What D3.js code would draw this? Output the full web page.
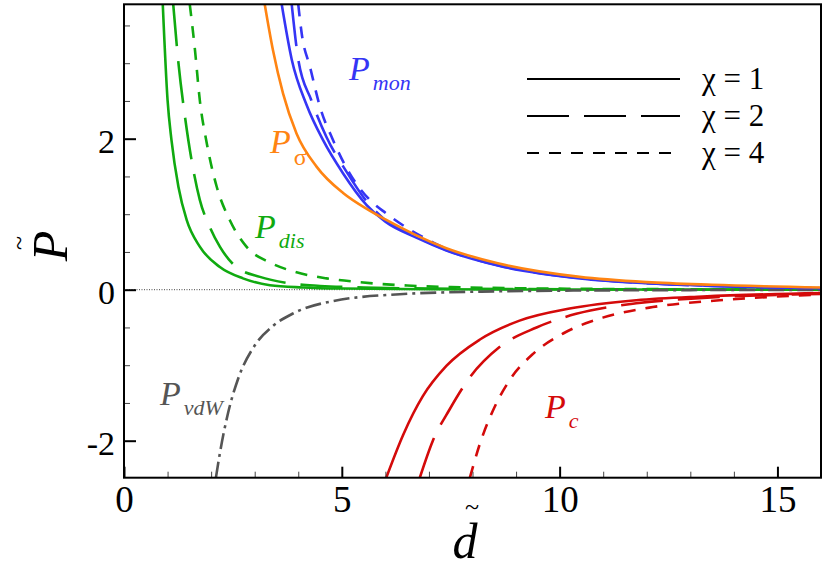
<!DOCTYPE html>
<html><head><meta charset="utf-8">
<script src="https://cdn.jsdelivr.net/npm/d3@7"></script>
</head><body style="margin:0">
<script>
// ticks
var xMajor = [0, 5, 10, 15];
var xMinor = [1, 2, 3, 4, 6, 7, 8, 9, 11, 12, 13, 14];
var yMajor = [-2, 0, 2];
var yMinor = [-1.5, -1, -0.5, 0.5, 1, 1.5, 2.5, 3, 3.5];

// curves, [d, P]
var disChi1 = [[0.89, 3.78], [1.0, 2.51], [1.09, 1.98], [1.25, 1.36], [1.44, 0.92], [1.74, 0.57], [2.2, 0.30], [2.73, 0.15], [3.35, 0.06], [4.1, 0.03], [5, 0.015], [7, 0.005], [16, 0]];
var disChi2 = [[1.13, 3.78], [1.25, 3.0], [1.40, 2.29], [1.55, 1.72], [1.74, 1.19], [1.97, 0.83], [2.2, 0.57], [2.58, 0.30], [3.12, 0.17], [3.73, 0.09], [4.5, 0.05], [5.5, 0.03], [7, 0.015], [9, 0.008], [16, 0.002]];
var disChi4 = [[1.51, 3.78], [1.63, 3.17], [1.74, 2.51], [1.90, 1.94], [2.13, 1.36], [2.43, 0.92], [2.81, 0.57], [3.35, 0.36], [3.9, 0.24], [4.65, 0.15], [5.4, 0.10], [6.5, 0.055], [7.5, 0.035], [9, 0.02], [11, 0.01], [16, 0.003]];

var monChi1 = [[3.62, 3.78], [3.85, 3.05], [4.19, 2.45], [4.57, 1.98], [5.03, 1.54], [5.57, 1.12], [6.0, 0.90], [6.71, 0.69], [7.40, 0.52], [8.58, 0.32], [10.46, 0.15], [12, 0.085], [13.5, 0.05], [16, 0.02]];
var monChi2 = [[3.85, 3.78], [4.0, 3.05], [4.30, 2.51], [4.65, 2.02], [5.11, 1.56], [5.57, 1.17], [6.0, 0.92], [6.71, 0.70], [7.40, 0.525], [8.58, 0.325], [10.46, 0.152], [12, 0.086], [13.5, 0.05], [16, 0.02]];
var monChi4 = [[4.0, 3.78], [4.08, 3.39], [4.27, 2.95], [4.50, 2.42], [4.80, 1.98], [5.18, 1.54], [5.64, 1.19], [6.02, 1.01], [6.52, 0.81], [6.98, 0.66], [7.40, 0.54], [8.58, 0.34], [10.46, 0.16], [12, 0.09], [13.5, 0.055], [16, 0.02]];

var sigma = [[3.23, 3.78], [3.42, 3.17], [3.65, 2.60], [3.96, 2.07], [4.42, 1.63], [5.03, 1.28], [5.6, 1.06], [6.0, 0.93], [6.71, 0.72], [7.40, 0.55], [8.58, 0.35], [10.46, 0.17], [12, 0.10], [13.5, 0.065], [16, 0.03]];

var vdw = [[2.11, -2.49], [2.20, -2.17], [2.39, -1.63], [2.62, -1.18], [3.0, -0.74], [3.42, -0.48], [3.88, -0.315], [4.8, -0.15], [6.33, -0.06], [8.2, -0.025], [10, -0.013], [13, -0.005], [16, -0.002]];

var cChi1 = [[6.02, -2.49], [6.41, -1.92], [6.86, -1.41], [7.40, -1.01], [8.17, -0.66], [9.08, -0.41], [10.23, -0.25], [11.76, -0.14], [13.29, -0.09], [16, -0.045]];
var cChi2 = [[6.79, -2.49], [7.09, -2.0], [7.48, -1.58], [7.94, -1.16], [8.62, -0.76], [9.47, -0.50], [10.38, -0.32], [11.76, -0.18], [13.29, -0.11], [16, -0.055]];
var cChi4 = [[7.94, -2.49], [8.17, -2.04], [8.47, -1.60], [8.85, -1.20], [9.39, -0.85], [10.08, -0.58], [10.99, -0.37], [12.14, -0.23], [13.67, -0.14], [16, -0.065]];

var legendLabels = ['\u03c7 = 1', '\u03c7 = 2', '\u03c7 = 4'];

var blue = '#3535f5', orange = '#ff8412', green = '#10aa10', red = '#d40a0a', grey = '#555555';
var solid = null, longDash = '42,15', shortDash = '12,10', dashDot = '16,5,3,5';
var serif = 'Liberation Serif';

var W = 830, H = 574;
var svg = d3.select('body').append('svg')
  .attr('width', W)
  .attr('height', H)
  .style('display', 'block');

var x = d3.scaleLinear().domain([0, 16]).range([124, 821]);
var y = d3.scaleLinear().domain([-2.49, 3.78]).range([477.7, 4.3]);

// text element with its face set before any content goes in
function addText(parent, size, italic) {
  return parent.append('text')
    .style('font-family', '"' + serif + '"')
    .attr('font-size', size)
    .attr('font-style', italic ? 'italic' : 'normal');
}

svg.append('clipPath').attr('id', 'plotclip')
  .append('rect')
  .attr('x', x(0)).attr('y', y(3.78))
  .attr('width', x(16) - x(0)).attr('height', y(-2.49) - y(3.78));

var line = d3.line().x(function (d) { return x(d[0]); }).y(function (d) { return y(d[1]); })
  .curve(d3.curveMonotoneX);

// zero line
svg.append('path')
  .attr('d', line([[0, 0], [16, 0]]))
  .attr('stroke', '#444').attr('stroke-width', 1)
  .attr('stroke-dasharray', '1,1.5').attr('fill', 'none');

var curves = svg.append('g').attr('clip-path', 'url(#plotclip)');
var series = [
  [disChi1, green, solid], [disChi2, green, longDash], [disChi4, green, shortDash],
  [vdw, grey, dashDot],
  [cChi1, red, solid], [cChi2, red, longDash], [cChi4, red, shortDash],
  [monChi1, blue, solid], [monChi2, blue, longDash], [monChi4, blue, shortDash],
  [sigma, orange, solid]
];
series.forEach(function (s) {
  curves.append('path')
    .attr('d', line(s[0]))
    .attr('fill', 'none')
    .attr('stroke', s[1])
    .attr('stroke-width', 2.6)
    .attr('stroke-dasharray', s[2]);
});

// axes, ticks inward
function fmt(d) { return String(d); }
var xAxis = svg.append('g').attr('transform', 'translate(0,' + y(-2.49) + ')')
  .call(d3.axisBottom(x).tickValues(xMajor).tickSize(-11).tickPadding(8).tickFormat(fmt));
var xAxisMinor = svg.append('g').attr('transform', 'translate(0,' + y(-2.49) + ')')
  .call(d3.axisBottom(x).tickValues(xMinor).tickSize(-6).tickFormat(''));
var yAxis = svg.append('g').attr('transform', 'translate(' + x(0) + ',0)')
  .call(d3.axisLeft(y).tickValues(yMajor).tickSize(-12).tickPadding(9).tickFormat(fmt));
var yAxisMinor = svg.append('g').attr('transform', 'translate(' + x(0) + ',0)')
  .call(d3.axisLeft(y).tickValues(yMinor).tickSize(-6).tickFormat(''));

[xAxis, xAxisMinor, yAxis, yAxisMinor].forEach(function (g) {
  g.attr('font-family', serif).attr('font-size', null);
  g.select('.domain').remove();
});
xAxis.selectAll('line').attr('stroke-width', 2);
yAxis.selectAll('line').attr('stroke-width', 2);
xAxisMinor.selectAll('line').attr('stroke', '#444');
yAxisMinor.selectAll('line').attr('stroke', '#444');

// rebuild the major tick labels so the serif face is set before the text
xAxis.selectAll('.tick').each(function (d) {
  var tk = d3.select(this);
  tk.select('text').remove();
  addText(tk, 37, false).attr('fill', '#000')
    .attr('y', 8).attr('dy', '0.71em').attr('text-anchor', 'middle')
    .text(fmt(d));
});
yAxis.selectAll('.tick').each(function (d) {
  var tk = d3.select(this);
  tk.select('text').remove();
  addText(tk, 34, false).attr('fill', '#000')
    .attr('x', -9).attr('dy', '0.42em').attr('text-anchor', 'end')
    .text(fmt(d));
});

// frame
svg.append('rect')
  .attr('x', x(0)).attr('y', y(3.78))
  .attr('width', x(16) - x(0)).attr('height', y(-2.49) - y(3.78))
  .attr('fill', 'none').attr('stroke', '#000').attr('stroke-width', 2);

// axis titles: symbol with tilde above
addText(svg, 50, true)
  .attr('transform', 'translate(67,246) rotate(-90)')
  .attr('text-anchor', 'middle')
  .text('P');
addText(svg, 26, false)
  .attr('transform', 'translate(27,243) rotate(-90)')
  .attr('text-anchor', 'middle')
  .text('~');
addText(svg, 50, true)
  .attr('x', 465).attr('y', 558)
  .attr('text-anchor', 'middle')
  .text('d');
addText(svg, 26, false)
  .attr('x', 472).attr('y', 515)
  .attr('text-anchor', 'middle')
  .text('~');

// curve labels
function curveLabel(px, py, sub, color, subItalic, subSize, subDy) {
  var t = addText(svg, 34, true).attr('x', px).attr('y', py).attr('fill', color);
  t.append('tspan')
    .style('font-family', '"' + serif + '"')
    .attr('font-size', 34).attr('font-style', 'italic')
    .text('P');
  t.append('tspan')
    .style('font-family', '"' + serif + '"')
    .attr('font-size', subSize)
    .attr('font-style', subItalic ? 'italic' : 'normal')
    .attr('dx', 3).attr('dy', subDy)
    .text(sub);
}
curveLabel(349, 80, 'mon', blue, true, 22, 10);
curveLabel(270, 153, '\u03c3', orange, false, 24, 12);
curveLabel(255, 238, 'dis', green, true, 22, 10);
curveLabel(160, 405, 'vdW', grey, true, 22, 10);
curveLabel(545, 418, 'c', red, true, 22, 10);

// legend
var legY = d3.scalePoint().domain(legendLabels).range([79, 153]);
var legDash = [solid, longDash, shortDash];
legendLabels.forEach(function (lab, i) {
  svg.append('line')
    .attr('x1', 527).attr('x2', 680)
    .attr('y1', legY(lab)).attr('y2', legY(lab))
    .attr('stroke', '#000').attr('stroke-width', 2.2)
    .attr('stroke-dasharray', legDash[i]);
  addText(svg, 31, false)
    .attr('x', 702).attr('y', legY(lab) + 9.5)
    .text(lab);
});
</script>
</body>
</html>
